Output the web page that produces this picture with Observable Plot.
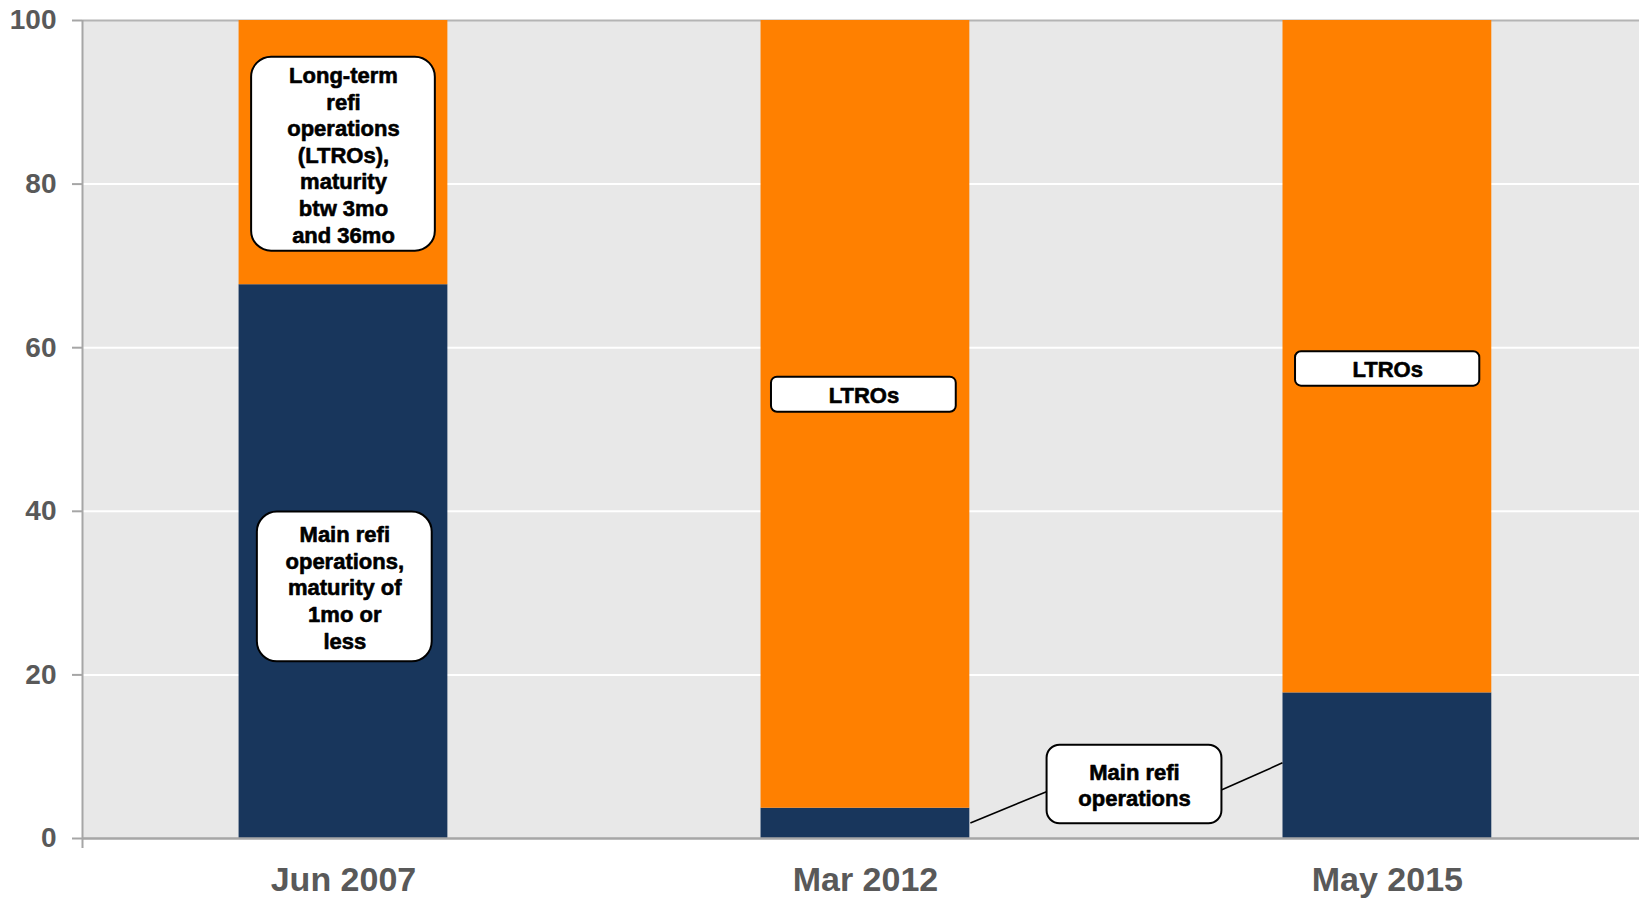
<!DOCTYPE html>
<html>
<head>
<meta charset="utf-8">
<script src="https://cdn.jsdelivr.net/npm/d3@7"></script>
<script src="https://cdn.jsdelivr.net/npm/@observablehq/plot@0.6"></script>
<style>
  html, body { margin: 0; padding: 0; background: #ffffff; }
  #chart svg text { font-weight: 700; }
</style>
</head>
<body>
<div id="chart"></div>
<script>
// ---- Data ----
const categories = ["Jun 2007", "Mar 2012", "May 2015"];
const mainRefi = [67.7, 3.7, 17.8];     // Main refi operations (share, %)
const ltros    = [32.3, 96.3, 82.2];    // LTROs (share, %)
const yTicks   = [0, 20, 40, 60, 80, 100];

// Annotation labels (positions in data units: x = category index, y = percent)
const annoText = [
  "Long-term\nrefi\noperations\n(LTROs),\nmaturity\nbtw 3mo\nand 36mo",
  "Main refi\noperations,\nmaturity of\n1mo or\nless",
  "LTROs",
  "LTROs",
  "Main refi\noperations"
];
const annoX1 = [-0.176, -0.165, 0.820, 1.824, 1.348];
const annoX2 = [ 0.176,  0.170, 1.174, 2.177, 1.683];
const annoY1 = [71.8, 21.6, 52.1, 55.3, 1.8];
const annoY2 = [95.5, 39.9, 56.4, 59.5, 11.4];
const annoR  = [20, 20, 6, 6, 13];

// Leader lines from the "Main refi operations" label to the bars
const leaderX1 = [1.201, 1.683];
const leaderY1 = [1.9, 5.95];
const leaderX2 = [1.348, 1.799];
const leaderY2 = [5.75, 9.25];

// ---- Derived tables ----
const navy = "#18365c";
const orange = "#ff8000";
const barHalf = 0.2;
const bars = [];
categories.forEach((c, i) => {
  bars.push({i, cat: c, series: "Main refi", y1: 0, y2: mainRefi[i], fill: navy});
  bars.push({i, cat: c, series: "LTROs", y1: mainRefi[i], y2: mainRefi[i] + ltros[i], fill: orange});
});
const annos = annoText.map((t, k) => ({
  text: t, x1: annoX1[k], x2: annoX2[k], y1: annoY1[k], y2: annoY2[k], r: annoR[k]
}));
const leaders = leaderX1.map((x, k) => ({x1: x, y1: leaderY1[k], x2: leaderX2[k], y2: leaderY2[k]}));

const boxMarks = [...new Set(annoR)].map(r =>
  Plot.rect(annos.filter(a => a.r === r), {
    x1: "x1", x2: "x2", y1: "y1", y2: "y2",
    fill: "#ffffff", stroke: "#000000", strokeWidth: 2, rx: r
  })
);

const chart = Plot.plot({
  width: 1639,
  height: 898,
  marginLeft: 82,
  marginRight: 0,
  marginTop: 20,
  marginBottom: 60,
  style: {
    fontFamily: "'Liberation Sans', Arial, sans-serif",
    background: "#ffffff",
    overflow: "visible"
  },
  x: {type: "linear", domain: [-0.5, 2.483], axis: null},
  y: {domain: [0, 100], axis: null},
  marks: [
    Plot.frame({fill: "#e8e8e8"}),
    Plot.ruleY(yTicks.filter(t => t > 0 && t < 100), {stroke: "#ffffff", strokeWidth: 2}),
    Plot.ruleY([100], {stroke: "#b4b4b4", strokeWidth: 2}),
    Plot.rectY(bars, {
      x1: d => d.i - barHalf,
      x2: d => d.i + barHalf,
      y1: "y1", y2: "y2",
      fill: "fill"
    }),
    Plot.link(leaders, {x1: "x1", y1: "y1", x2: "x2", y2: "y2", stroke: "#000000", strokeWidth: 1.6}),
    ...boxMarks,
    Plot.text(annos, {
      x: d => (d.x1 + d.x2) / 2,
      y: d => (d.y1 + d.y2) / 2,
      text: "text",
      fontSize: 22,
      fontWeight: "bold",
      lineHeight: 1.21,
      lineAnchor: "middle",
      textAnchor: "middle",
      fill: "#000000",
      stroke: "#000000",
      strokeWidth: 0.6
    }),
    Plot.axisY({
      ticks: yTicks,
      tickSize: 10,
      tickPadding: 16,
      fontSize: 28,
      fontWeight: "bold",
      color: "#595959",
      fill: "#595959",
      stroke: "#a6a6a6",
      strokeWidth: 2
    }),
    Plot.axisX({
      ticks: [0, 1, 2],
      tickFormat: i => categories[i],
      tickSize: 0,
      tickPadding: 28,
      fontSize: 34,
      fontWeight: "bold",
      color: "#595959",
      fill: "#595959"
    }),
    Plot.ruleX([-0.5], {stroke: "#a6a6a6", strokeWidth: 2, insetBottom: -10}),
    Plot.ruleY([0], {stroke: "#a6a6a6", strokeWidth: 2.5})
  ]
});

document.getElementById("chart").appendChild(chart);
</script>
</body>
</html>
